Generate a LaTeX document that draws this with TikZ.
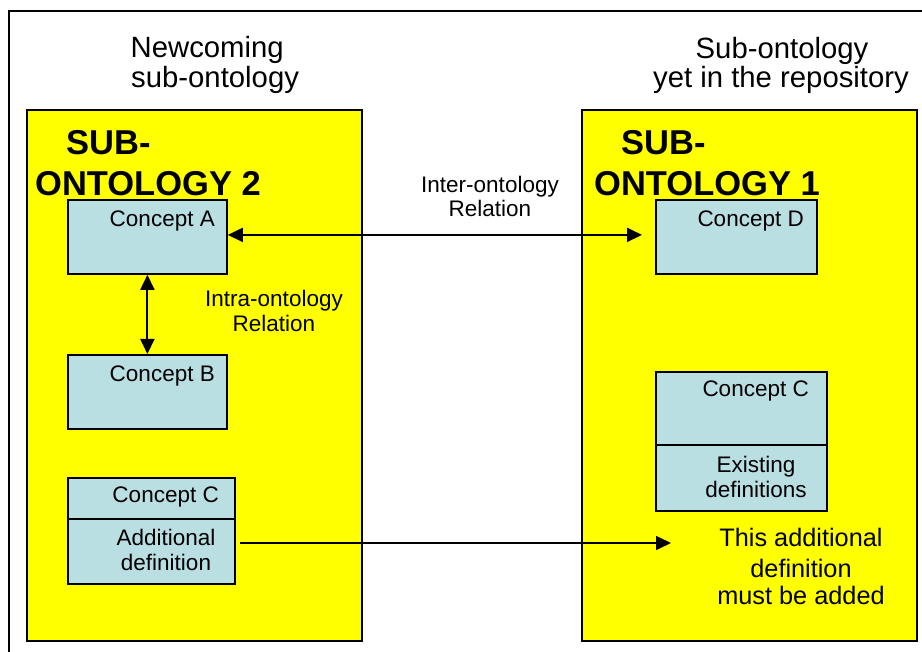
\documentclass[tikz,border=0pt]{standalone}
\usepackage{fontspec}
\setmainfont{Liberation Sans}
\usetikzlibrary{arrows.meta}
\definecolor{conceptblue}{RGB}{185,223,227}
\definecolor{ontoyellow}{RGB}{255,255,0}
\tikzset{
  ontobox/.style={draw=black, line width=1.8pt, fill=ontoyellow, anchor=north west, inner sep=0pt, minimum width=335pt, minimum height=531pt},
  conceptbox/.style={draw=black, line width=1.8pt, fill=conceptblue, anchor=north west, inner sep=0pt},
  titletext/.style={inner sep=0pt, font=\fontsize{29.3}{30}\selectfont},
  bigtext/.style={inner sep=0pt, font=\fontsize{34.5}{40}\selectfont\bfseries},
  smalltext/.style={inner sep=0pt, font=\fontsize{22.5}{24}\selectfont},
  notetext/.style={inner sep=0pt, font=\fontsize{25.3}{28}\selectfont},
  arr/.style={line width=1.9pt, {Triangle[length=15pt,width=14pt]}-{Triangle[length=15pt,width=14pt]}},
  arrone/.style={line width=1.6pt, -{Triangle[length=15pt,width=14pt]}}
}
\begin{document}
\begin{tikzpicture}[x=1pt,y=-1pt]
\useasboundingbox (0,0) rectangle (922,652);
\clip (0,0) rectangle (922,652);
% outer frame
\draw[line width=2pt] (9,11) rectangle (940,670);
% titles
\node[titletext, anchor=base west] (t1a) at (130.5,58) {Newcoming};
\node[titletext, anchor=base west] (t1b) at (131,88) {sub-ontology};
\node[titletext, anchor=base] (t2a) at (782,59) {Sub-ontology};
\node[titletext, anchor=base] (t2b) at (781,88) {yet in the repository};
% yellow boxes
\node[ontobox] (Y2) at (26,109) {};
\node[ontobox] (Y1) at (581,109) {};
\node[bigtext, anchor=base west] (s2a) at (66,155) {SUB-};
\node[bigtext, anchor=base west] (s2b) at (35,196) {ONTOLOGY 2};
\node[bigtext, anchor=base west] (s1a) at (621,155) {SUB-};
\node[bigtext, anchor=base west] (s1b) at (594,196) {ONTOLOGY 1};
% concept boxes
\node[conceptbox, minimum width=159pt, minimum height=74pt] (A) at (67,199) {};
\node[conceptbox, minimum width=159pt, minimum height=74pt] (B) at (67,354) {};
\node[conceptbox, minimum width=167pt, minimum height=41pt] (CL1) at (67,477) {};
\node[conceptbox, minimum width=167pt, minimum height=65pt] (CL2) at (67,518) {};
\node[conceptbox, minimum width=161pt, minimum height=74pt] (D) at (655,199) {};
\node[conceptbox, minimum width=171pt, minimum height=73pt] (CR1) at (655,371) {};
\node[conceptbox, minimum width=171pt, minimum height=66pt] (CR2) at (655,444) {};
% concept labels
\node[smalltext, anchor=base east] (lA) at (215,227) {Concept A};
\node[smalltext, anchor=base east] (lB) at (215,382) {Concept B};
\node[smalltext, anchor=base east] (lCL) at (219,503) {Concept C};
\node[smalltext, anchor=base] (lAd1) at (166,545) {Additional};
\node[smalltext, anchor=base] (lAd2) at (166,570) {definition};
\node[smalltext, anchor=base east] (lD) at (804,227) {Concept D};
\node[smalltext, anchor=base east] (lCR) at (809,397) {Concept C};
\node[smalltext, anchor=base] (lEx1) at (756,472) {Existing};
\node[smalltext, anchor=base] (lEx2) at (756,497) {definitions};
% relation labels
\node[smalltext, anchor=base] (inter1) at (490,193) {Inter-ontology};
\node[smalltext, anchor=base] (inter2) at (490,217) {Relation};
\node[smalltext, anchor=base] (intra1) at (274,307) {Intra-ontology};
\node[smalltext, anchor=base] (intra2) at (274,332) {Relation};
% note
\node[notetext, anchor=base] (n1) at (801,547) {This additional};
\node[notetext, anchor=base] (n2) at (801,577) {definition};
\node[notetext, anchor=base] (n3) at (801,604) {must be added};
% connectors
\draw[arr] ([yshift=2pt]A.east) -- ([xshift=-13pt,yshift=2pt]D.west);
\draw[arr] (A.south) -- (B.north);
\coordinate (addtip) at (671,543);
\draw[arrone] ([xshift=4pt]CL2.east |- addtip) -- (addtip);
\end{tikzpicture}
\end{document}
